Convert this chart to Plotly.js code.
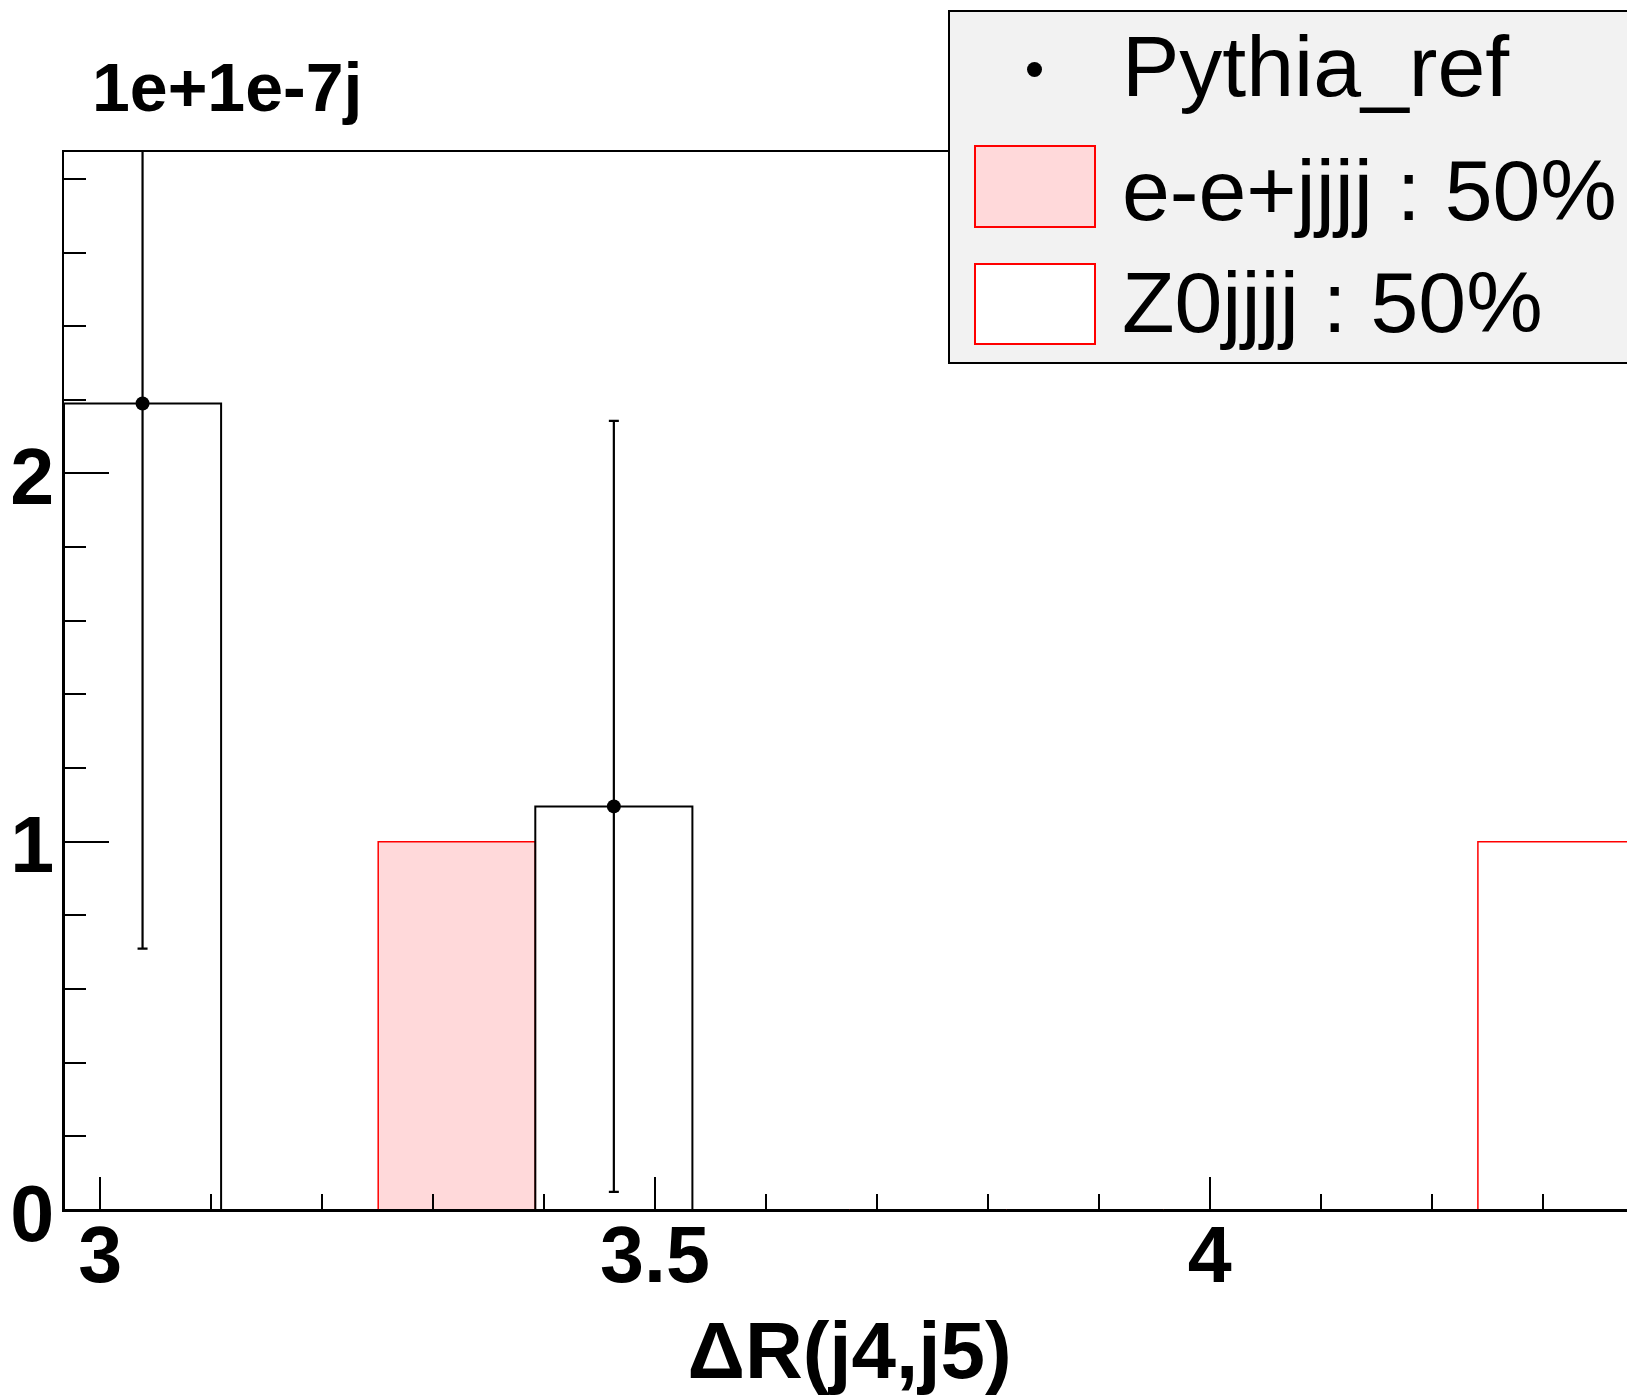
<!DOCTYPE html>
<html>
<head>
<meta charset="utf-8">
<script src="https://cdn.plot.ly/plotly-3.0.1.min.js"></script>
<style>
  html, body { margin: 0; padding: 0; overflow: hidden; background: #fff; }
  #chart { width: 1700px; height: 1395px; }
</style>
</head>
<body>
<div id="chart"></div>
<script>
// ---- data ----
const binLow = 2.9673;
const binWidth = 0.1416;
const nBins = 10;
const pythiaRef = [2.19, 0, 0, 1.096, 0, 0, 0, 0, 0, 0];
const pythiaErr = [1.48, 0, 0, 1.047, 0, 0, 0, 0, 0, 0];
const eeJjjj    = [0, 0, 1, 0, 0, 0, 0, 0, 0, 0];
const z0Jjjj    = [0, 0, 0, 0, 0, 0, 0, 0, 0, 1];
const legendLabels = ["Pythia_ref", "e-e+jjjj : 50%", "Z0jjjj : 50%"];
const xTitle = "ΔR(j4,j5)";
const expLabel = "1e+1e-7j";

const centers = [];
for (let i = 0; i < nBins; i++) centers.push(binLow + (i + 0.5) * binWidth);

// ---- layout geometry (pixels) ----
const W = 1700, H = 1395;
const M = { l: 64, r: 65, t: 152, b: 185 };
const pw = W - M.l - M.r, ph = H - M.t - M.b;
const px = v => (v - M.l) / pw;
const py = v => (H - M.b - v) / ph;

const FONT = "Liberation Sans, Arial, Helvetica, sans-serif";

const ptsX = [], ptsY = [], ptsE = [];
pythiaRef.forEach((v, i) => { if (v > 0) { ptsX.push(centers[i]); ptsY.push(v); ptsE.push(pythiaErr[i]); } });

const traces = [
  { type: "bar", x: centers, y: eeJjjj, width: binWidth,
    marker: { color: "rgb(255,217,218)", line: { color: "red", width: 1.5 } },
    showlegend: false, hoverinfo: "skip" },
  { type: "bar", x: centers, y: z0Jjjj, width: binWidth,
    marker: { color: "rgba(255,255,255,0)", line: { color: "red", width: 1.5 } },
    showlegend: false, hoverinfo: "skip" },
  { type: "bar", x: centers, y: pythiaRef, width: binWidth,
    marker: { color: "rgba(0,0,0,0)", line: { color: "black", width: 2 } },
    showlegend: false, hoverinfo: "skip" },
  { type: "scatter", mode: "markers", x: ptsX, y: ptsY,
    marker: { color: "black", size: 14, symbol: "circle" },
    error_y: { type: "data", array: ptsE, visible: true, color: "black", thickness: 2.2, width: 5 },
    showlegend: false, hoverinfo: "skip" }
];

const tickFont = { family: FONT, size: 79, color: "black", weight: 700 };

const layout = {
  width: W, height: H,
  margin: M,
  paper_bgcolor: "white", plot_bgcolor: "white",
  barmode: "overlay", bargap: 0,
  showlegend: false,
  xaxis: {
    range: [binLow, binLow + nBins * binWidth],
    tick0: 3, dtick: 0.5,
    ticks: "inside", ticklen: 33, tickwidth: 2, tickcolor: "black",
    minor: { tick0: 3, dtick: 0.1, ticks: "inside", ticklen: 16, tickwidth: 2, tickcolor: "black", showgrid: false },
    showline: true, linecolor: "black", linewidth: 2, mirror: true,
    showgrid: false, zeroline: false, automargin: false,
    tickfont: tickFont, ticklabelstandoff: -25,
    title: { text: xTitle, font: { family: FONT, size: 80, color: "black", weight: 700 }, standoff: 40 }
  },
  yaxis: {
    range: [0, 2.873],
    tick0: 0, dtick: 1,
    ticks: "inside", ticklen: 45, tickwidth: 2, tickcolor: "black",
    minor: { tick0: 0, dtick: 0.2, ticks: "inside", ticklen: 22, tickwidth: 2, tickcolor: "black", showgrid: false },
    showline: true, linecolor: "black", linewidth: 2, mirror: true,
    showgrid: false, zeroline: false, automargin: false,
    tickfont: tickFont, ticklabelstandoff: -8, ticklabelshift: 3
  },
  shapes: [
    { type: "rect", xref: "paper", yref: "paper", layer: "above",
      x0: px(949), x1: px(1720), y0: py(11), y1: py(363),
      fillcolor: "#f2f2f2", line: { color: "black", width: 2 } },
    { type: "circle", xref: "paper", yref: "paper", layer: "above",
      x0: px(1027), x1: px(1042), y0: py(62), y1: py(77),
      fillcolor: "black", line: { color: "black", width: 0 } },
    { type: "rect", xref: "paper", yref: "paper", layer: "above",
      x0: px(975), x1: px(1095), y0: py(146), y1: py(227),
      fillcolor: "rgb(255,217,218)", line: { color: "red", width: 2 } },
    { type: "rect", xref: "paper", yref: "paper", layer: "above",
      x0: px(975), x1: px(1095), y0: py(264), y1: py(344),
      fillcolor: "white", line: { color: "red", width: 2 } }
  ],
  annotations: [
    { xref: "paper", yref: "paper", x: px(90), y: py(87), xanchor: "left", yanchor: "middle",
      text: expLabel, showarrow: false,
      font: { family: FONT, size: 68, color: "black", weight: 700 } },
    { xref: "paper", yref: "paper", x: px(1120), y: py(66), xanchor: "left", yanchor: "middle",
      text: legendLabels[0], showarrow: false,
      font: { family: FONT, size: 86, color: "black" } },
    { xref: "paper", yref: "paper", x: px(1120), y: py(190), xanchor: "left", yanchor: "middle",
      text: legendLabels[1], showarrow: false,
      font: { family: FONT, size: 86, color: "black" } },
    { xref: "paper", yref: "paper", x: px(1120), y: py(302), xanchor: "left", yanchor: "middle",
      text: legendLabels[2], showarrow: false,
      font: { family: FONT, size: 86, color: "black" } }
  ]
};

Plotly.newPlot("chart", traces, layout, { staticPlot: true, displayModeBar: false });
</script>
</body>
</html>
